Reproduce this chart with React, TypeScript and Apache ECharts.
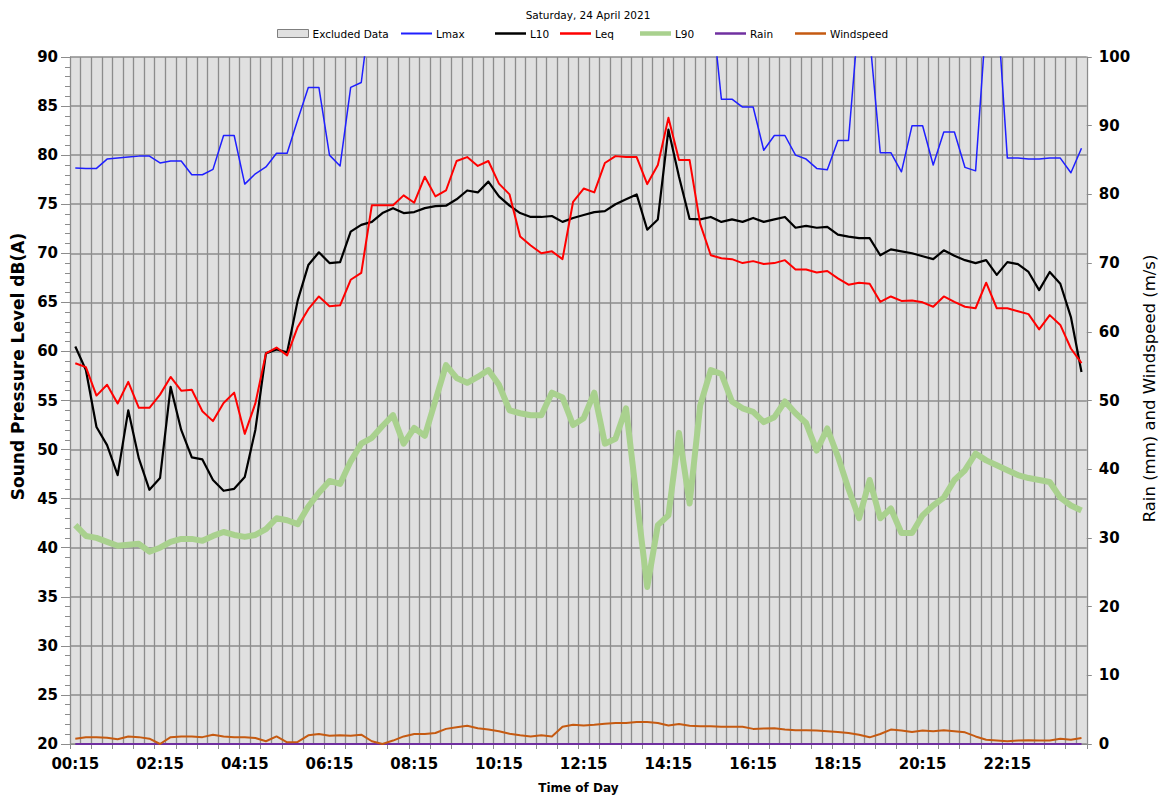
import React, { useEffect, useRef } from "react";
import * as echarts from "echarts";

const times: string[] = [];
for (let i = 1; i <= 96; i++) {
  const t = i * 15;
  const h = Math.floor(t / 60);
  const m = t % 60;
  times.push(String(h).padStart(2, "0") + ":" + String(m).padStart(2, "0"));
}

const excludedData = [
  100, 100, 100, 100, 100, 100, 100, 100, 100, 100, 100, 100, 100, 100, 100, 100,
  100, 100, 100, 100, 100, 100, 100, 100, 100, 100, 100, 100, 100, 100, 100, 100,
  100, 100, 100, 100, 100, 100, 100, 100, 100, 100, 100, 100, 100, 100, 100, 100,
  100, 100, 100, 100, 100, 100, 100, 100, 100, 100, 100, 100, 100, 100, 100, 100,
  100, 100, 100, 100, 100, 100, 100, 100, 100, 100, 100, 100, 100, 100, 100, 100,
  100, 100, 100, 100, 100, 100, 100, 100, 100, 100, 100, 100, 100, 100, 100, 100,
];

const lmax = [
  78.7, 78.65, 78.65, 79.6, 79.7, 79.8, 79.9, 79.9, 79.2, 79.4, 79.4, 78.0, 78.0, 78.55, 82.0, 82.0,
  77.05, 78.1, 78.8, 80.2, 80.2, 83.6, 86.9, 86.9, 80.0, 78.9, 86.9, 87.4, 96.0, 97.5, 99.2, 98.1,
  96.8, 100.4, 98.7, 97.9, 101.2, 99.6, 98.3, 100.8, 97.4, 96.9, 95.8, 96.5, 98.2, 97.1, 99.5, 101.6,
  98.8, 97.6, 99.9, 100.3, 98.4, 97.2, 99.1, 103.5, 100.2, 98.6, 97.3, 96.8, 96.2, 85.7, 85.7, 84.9,
  84.9, 80.5, 82.0, 82.0, 80.0, 79.6, 78.65, 78.5, 81.5, 81.5, 94.6, 92.1, 80.25, 80.25, 78.3, 83.0,
  83.0, 79.0, 82.35, 82.35, 78.75, 78.4, 93.9, 96.0, 79.7, 79.7, 79.6, 79.6, 79.7, 79.7, 78.2, 80.7,
];

const l10 = [
  60.5, 58.1, 52.3, 50.45, 47.4, 54.0, 49.1, 45.9, 47.1, 56.4, 52.0, 49.2, 49.0, 46.9, 45.8, 46.0,
  47.2, 52.0, 59.8, 60.2, 59.9, 65.2, 68.8, 70.1, 69.0, 69.1, 72.2, 72.9, 73.2, 74.1, 74.6, 74.1,
  74.2, 74.6, 74.8, 74.85, 75.5, 76.4, 76.2, 77.3, 75.8, 74.85, 74.1, 73.7, 73.7, 73.8, 73.2, 73.6,
  73.9, 74.2, 74.3, 75.0, 75.5, 76.0, 72.4, 73.45, 82.6, 77.8, 73.5, 73.45, 73.7, 73.2, 73.45, 73.2,
  73.6, 73.2, 73.45, 73.7, 72.6, 72.8, 72.6, 72.7, 71.9, 71.7, 71.55, 71.55, 69.8, 70.4, 70.2, 70.0,
  69.7, 69.4, 70.3, 69.75, 69.3, 69.0, 69.3, 67.8, 69.1, 68.9, 68.1, 66.25, 68.1, 66.9, 63.5, 57.9,
];

const leq = [
  58.8, 58.4, 55.5, 56.6, 54.7, 56.9, 54.25, 54.25, 55.6, 57.4, 56.0, 56.1, 53.9, 52.9, 54.75, 55.8,
  51.6, 54.7, 59.8, 60.4, 59.6, 62.5, 64.3, 65.6, 64.6, 64.7, 67.3, 68.0, 74.9, 74.9, 74.9, 75.9,
  75.15, 77.8, 75.8, 76.4, 79.4, 79.8, 78.9, 79.4, 77.1, 76.0, 71.7, 70.8, 70.0, 70.2, 69.4, 75.25,
  76.6, 76.2, 79.2, 79.9, 79.8, 79.8, 77.05, 79.0, 83.8, 79.5, 79.5, 73.0, 69.8, 69.5, 69.4, 69.0,
  69.2, 68.9, 69.0, 69.3, 68.35, 68.35, 68.05, 68.2, 67.45, 66.8, 67.0, 66.9, 65.05, 65.6, 65.15, 65.2,
  65.0, 64.55, 65.6, 65.05, 64.55, 64.4, 67.0, 64.4, 64.4, 64.1, 63.8, 62.25, 63.7, 62.7, 60.3, 58.8,
];

const l90 = [
  42.3, 41.2, 41.0, 40.6, 40.2, 40.3, 40.4, 39.6, 40.0, 40.6, 40.9, 40.9, 40.7, 41.2, 41.6, 41.3,
  41.1, 41.3, 41.9, 43.0, 42.8, 42.4, 44.2, 45.6, 46.8, 46.5, 48.8, 50.6, 51.2, 52.4, 53.5, 50.6,
  52.2, 51.4, 55.0, 58.6, 57.3, 56.8, 57.4, 58.1, 56.6, 54.0, 53.7, 53.5, 53.5, 55.8, 55.3, 52.5,
  53.2, 55.8, 50.6, 51.1, 54.2, 45.0, 36.0, 42.3, 43.3, 51.7, 44.5, 54.5, 58.1, 57.7, 54.9, 54.2,
  53.85, 52.8, 53.3, 54.9, 53.7, 52.7, 49.9, 52.15, 49.3, 46.0, 43.0, 46.9, 43.0, 44.0, 41.5, 41.5,
  43.3, 44.3, 45.1, 46.9, 47.9, 49.6, 48.9, 48.4, 47.9, 47.4, 47.1, 46.9, 46.7, 45.1, 44.3, 43.8,
];

const rain = [
  0, 0, 0, 0, 0, 0, 0, 0, 0, 0, 0, 0, 0, 0, 0, 0,
  0, 0, 0, 0, 0, 0, 0, 0, 0, 0, 0, 0, 0, 0, 0, 0,
  0, 0, 0, 0, 0, 0, 0, 0, 0, 0, 0, 0, 0, 0, 0, 0,
  0, 0, 0, 0, 0, 0, 0, 0, 0, 0, 0, 0, 0, 0, 0, 0,
  0, 0, 0, 0, 0, 0, 0, 0, 0, 0, 0, 0, 0, 0, 0, 0,
  0, 0, 0, 0, 0, 0, 0, 0, 0, 0, 0, 0, 0, 0, 0, 0,
];

const windspeed = [
  0.77, 0.97, 1.0, 0.9, 0.7, 1.1, 1.0, 0.77, 0, 1.0, 1.1, 1.1, 1.0, 1.35, 1.1, 1.0,
  1.0, 0.87, 0.4, 1.1, 0.25, 0.3, 1.26, 1.45, 1.2, 1.26, 1.2, 1.36, 0.4, 0, 0.5, 1.1,
  1.45, 1.45, 1.6, 2.2, 2.45, 2.65, 2.3, 2.1, 1.85, 1.5, 1.26, 1.1, 1.26, 1.1, 2.5, 2.8,
  2.7, 2.8, 2.96, 3.05, 3.05, 3.2, 3.2, 3.05, 2.7, 2.9, 2.65, 2.57, 2.57, 2.5, 2.5, 2.5,
  2.2, 2.25, 2.3, 2.1, 2.0, 2.0, 1.95, 1.85, 1.75, 1.6, 1.36, 0.97, 1.45, 2.1, 1.95, 1.75,
  1.95, 1.85, 2.0, 1.85, 1.7, 1.1, 0.63, 0.5, 0.4, 0.5, 0.53, 0.5, 0.5, 0.78, 0.63, 0.87,
];

const legendItems = ["Excluded Data", "Lmax", "L10", "Leq", "L90", "Rain", "Windspeed"];

const FONT = "DejaVu Sans";
const GRID_COLOR = "#8c8c8c";

export default function App() {
  const ref = useRef<HTMLDivElement>(null);
  useEffect(() => {
    if (!ref.current) return;
    const chart = echarts.init(ref.current, undefined, { renderer: "svg" });
    const lineSeries = (name: string, data: number[], color: string, width: number, axis = 0, z = 3) => ({
      name,
      type: "line",
      data,
      yAxisIndex: axis,
      symbol: "none",
      showSymbol: false,
      clip: true,
      z,
      lineStyle: { color, width, join: "round" },
      itemStyle: { color },
    });
    const legendLeft = [277, 401, 495, 560, 640, 715, 795];
    const legendH = [8, 2, 2.5, 2.5, 4.5, 2.5, 2.5];
    const legends = legendItems.map((name, i) => ({
      data: [name],
      left: legendLeft[i],
      top: 28,
      itemWidth: 31,
      itemHeight: legendH[i],
      icon: "rect",
      padding: 0,
      textStyle: { fontFamily: FONT, fontSize: 10.5, color: "#000", padding: [0, 0, 0, -1] },
      itemStyle:
        i === 0
          ? { color: "#e0e0e0", borderColor: "#7f7f7f", borderWidth: 1 }
          : { borderWidth: 0 },
    }));
    chart.setOption({
      animation: false,
      backgroundColor: "#ffffff",
      textStyle: { fontFamily: FONT },
      title: {
        text: "Saturday, 24 April 2021",
        left: 583,
        textAlign: "center",
        top: 4,
        textStyle: { fontFamily: FONT, fontSize: 10.5, fontWeight: "normal", color: "#000" },
      },
      legend: legends,
      grid: {
        left: 70,
        right: 75,
        top: 57,
        bottom: 58,
        show: true,
        backgroundColor: "#e0e0e0",
        borderWidth: 0,
      },
      xAxis: {
        type: "category",
        data: times,
        boundaryGap: true,
        name: "Time of Day",
        nameLocation: "middle",
        nameGap: 38,
        nameTextStyle: { fontFamily: FONT, fontSize: 12, fontWeight: "bold", color: "#000" },
        axisLine: { show: true, lineStyle: { color: GRID_COLOR, width: 1 } },
        axisTick: { show: true, interval: 1, length: 5, alignWithLabel: false, lineStyle: { color: GRID_COLOR } },
        axisLabel: { interval: 7, margin: 12, fontFamily: FONT, fontSize: 15, fontWeight: "bold", color: "#000" },
        splitLine: { show: true, interval: 0, lineStyle: { color: GRID_COLOR, width: 1.3 } },
      },
      yAxis: [
        {
          type: "value",
          min: 20,
          max: 90,
          interval: 5,
          position: "left",
          name: "Sound Pressure Level dB(A)",
          nameLocation: "middle",
          nameRotate: 90,
          nameGap: 43,
          nameTextStyle: { fontFamily: FONT, fontSize: 17, fontWeight: "bold", color: "#000", padding: [0, 0, 0, 68] },
          axisLine: { show: true, lineStyle: { color: GRID_COLOR, width: 1 } },
          axisTick: { show: true, length: 9, lineStyle: { color: GRID_COLOR } },
          minorTick: { show: true, splitNumber: 5, length: 5, lineStyle: { color: GRID_COLOR } },
          axisLabel: { margin: 12, fontFamily: FONT, fontSize: 15, fontWeight: "bold", color: "#000" },
          splitLine: { show: true, lineStyle: { color: GRID_COLOR, width: 1.5 } },
        },
        {
          type: "value",
          min: 0,
          max: 100,
          interval: 10,
          position: "right",
          name: "Rain (mm) and Windspeed (m/s)",
          nameLocation: "middle",
          nameRotate: 90,
          nameGap: 50,
          nameTextStyle: { fontFamily: FONT, fontSize: 16.5, fontWeight: "normal", color: "#000", padding: [0, 0, 0, 24] },
          axisLine: { show: true, lineStyle: { color: GRID_COLOR, width: 1 } },
          axisTick: { show: true, length: 5, lineStyle: { color: GRID_COLOR } },
          axisLabel: { margin: 12, fontFamily: FONT, fontSize: 15, fontWeight: "bold", color: "#000" },
          splitLine: { show: false },
        },
      ],
      series: [
        {
          name: "Excluded Data",
          type: "bar",
          data: excludedData,
          yAxisIndex: 1,
          barCategoryGap: "0%",
          barGap: "0%",
          z: 1,
          itemStyle: { color: "rgba(224,224,224,0)", borderWidth: 0 },
          emphasis: { disabled: true },
        },
        lineSeries("Lmax", lmax, "#1f1fff", 1.5, 0, 3),
        lineSeries("L10", l10, "#000000", 2.2, 0, 4),
        lineSeries("Leq", leq, "#ff0000", 2, 0, 5),
        lineSeries("L90", l90, "#a9d18e", 6, 0, 3),
        lineSeries("Rain", rain, "#7030a0", 2, 1, 6),
        lineSeries("Windspeed", windspeed, "#c55a11", 2, 1, 6),
      ],
    });
    return () => chart.dispose();
  }, []);
  return (
    <div
      ref={ref}
      style={{ position: "fixed", left: 0, top: 0, width: 1166, height: 802 }}
    />
  );
}
